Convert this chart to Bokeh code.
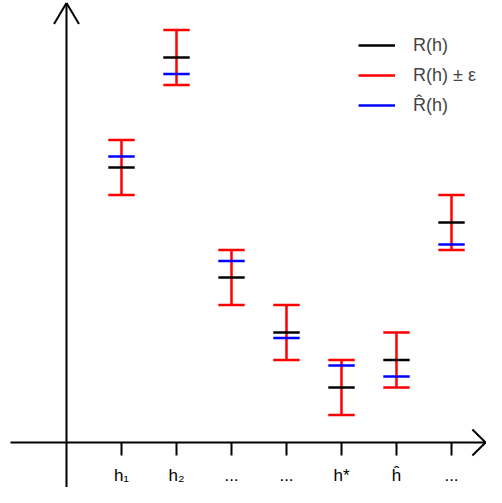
from bokeh.plotting import figure
from bokeh.models import Range1d, ColumnDataSource, Legend, LegendItem
from bokeh.core.properties import value
from bokeh.embed import file_html
from bokeh.resources import INLINE

# ---- data ----
x_pos = [1, 2, 3, 4, 5, 6, 7]
tick_labels = ["h\u2081", "h\u2082", "...", "...", "h*", "\u0125", "..."]
R = [5.0, 7.0, 3.0, 2.0, 1.0, 1.5, 4.0]
R_hat = [5.2, 6.7, 3.3, 1.9, 1.4, 1.2, 3.6]
eps = 0.5

W, H = 486, 487
p = figure(width=W, height=H, output_backend="svg", toolbar_location=None,
           x_range=Range1d(-1.2, 7.6364), y_range=Range1d(-0.8182, 8.0364),
           min_border=0, outline_line_color=None)
p.xaxis.visible = False
p.yaxis.visible = False
p.grid.visible = False

hw = 0.24  # half width of the horizontal marks
lw = 2.5

src = ColumnDataSource(dict(
    x=x_pos,
    x0=[x - hw for x in x_pos],
    x1=[x + hw for x in x_pos],
    r=R,
    rh=R_hat,
    lo=[r - eps for r in R],
    hi=[r + eps for r in R],
))

# red error bars
red_v = p.segment(x0="x", y0="lo", x1="x", y1="hi", source=src, line_color="#FF0000", line_width=lw)
p.segment(x0="x0", y0="lo", x1="x1", y1="lo", source=src, line_color="#FF0000", line_width=lw)
p.segment(x0="x0", y0="hi", x1="x1", y1="hi", source=src, line_color="#FF0000", line_width=lw)
# true risk
blk = p.segment(x0="x0", y0="r", x1="x1", y1="r", source=src, line_color="#000000", line_width=lw)
# empirical risk
blu = p.segment(x0="x0", y0="rh", x1="x1", y1="rh", source=src, line_color="#0000FF", line_width=lw)

# axes with arrows
ax_lw = 2
p.segment(x0=[0], y0=[-1.2], x1=[0], y1=[7.99], line_color="black", line_width=ax_lw)
p.segment(x0=[-0.227, 0.227], y0=[7.61, 7.61], x1=[0, 0], y1=[7.99, 7.99], line_color="black", line_width=ax_lw)
p.segment(x0=[-1.018], y0=[0], x1=[7.62], y1=[0], line_color="black", line_width=ax_lw)
p.segment(x0=[7.38, 7.38], y0=[0.236, -0.236], x1=[7.62, 7.62], y1=[0, 0], line_color="black", line_width=ax_lw)

# x ticks
tsrc = ColumnDataSource(dict(x=x_pos, y0=[0] * len(x_pos), y1=[-0.236] * len(x_pos),
                             ly=[-0.6] * len(x_pos), lab=tick_labels))
p.segment(x0="x", y0="y0", x1="x", y1="y1", source=tsrc, line_color="black", line_width=ax_lw)
p.text(x="x", y="ly", text="lab", source=tsrc, text_align="center", text_baseline="middle",
       text_font=value("Liberation Sans"), text_font_size="17px", text_color="black")

legend = Legend(items=[
    LegendItem(label="R(h)", renderers=[blk]),
    LegendItem(label="R(h) \u00b1 \u03b5", renderers=[red_v]),
    LegendItem(label="R\u0302(h)", renderers=[blu]),
], location=(358, 367), orientation="vertical", padding=0, margin=0, spacing=0,
    glyph_width=37, glyph_height=30, label_height=30, label_standoff=18,
    label_text_font="Liberation Sans", label_text_font_size="18px",
    border_line_alpha=0, background_fill_alpha=0)
p.add_layout(legend)

open("out.html", "w").write(file_html(p, INLINE))
